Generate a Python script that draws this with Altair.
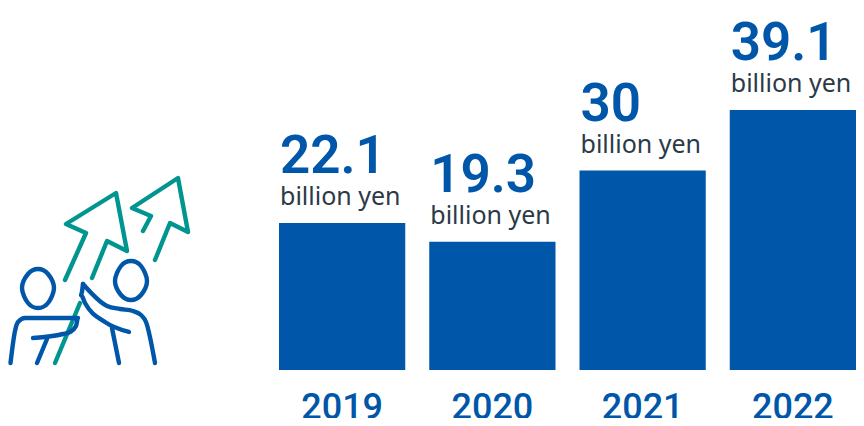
import altair as alt
import pandas as pd

years = ["2019", "2020", "2021", "2022"]
values = [22.1, 19.3, 30, 39.1]
unit_label = "billion yen"

BLUE = "#0056a8"
TEAL = "#00958f"
DARK = "#2c3a47"

# Decorative icon outlines, in reference picture coordinates
teal_paths = {
    "arrow1": [(65, 280), (86, 233), (66, 224), (116, 193), (127, 251), (107, 241), (92, 278)],
    "shaft": [(80, 303), (55, 363)],
    "arrow2": [(143, 231), (151, 216), (132, 208), (178, 178), (188, 232), (170, 223), (155, 260)],
}
blue_paths = {
    "body_left": [(10.5, 363), (15, 331), (18, 322), (25, 318), (32, 318), (78, 318), (76, 326),
                  (70, 332), (63, 334), (33, 338)],
    "leg_left": [(47, 339), (37, 363)],
    "arm_right_low": [(83, 284), (81, 295), (85, 303), (105, 322), (129, 332)],
    "arm_right_up": [(83, 284), (107, 306), (120, 309), (133, 311), (141, 315), (146, 322),
                     (155, 363)],
    "leg_right": [(112, 328), (119, 363)],
}
head_paths = {
    "head_left": [(38, 269), (48, 274), (54, 288), (48, 303), (38, 308), (28, 303), (22, 288), (28, 274)],
    "head_right": [(131, 261), (141, 266), (147, 281), (141, 295), (131, 300), (121, 295), (115, 281), (121, 266)],
}


def to_frame(paths):
    rows = []
    for name, pts in paths.items():
        for i, (px, py) in enumerate(pts):
            rows.append({"path": name, "order": i, "px": px, "py": py})
    return pd.DataFrame(rows)


bars_df = pd.DataFrame({
    "year": years,
    "value": values,
    "label": [f"{v:g}" for v in values],
    "unit": [unit_label] * len(years),
})

BAR_W = 126.25
x_band = alt.Scale(domain=years, range=[271, 848], paddingInner=24 / (BAR_W + 24), paddingOuter=0, round=False)
y_val = alt.Scale(domain=[0, 362 / 6.65], range=[362, 0], nice=False)

base = alt.Chart(bars_df)
x_axis = alt.Axis(
    title=None, domain=False, ticks=False, labelAngle=0, labelFont="Roboto", labelFontSize=36,
    labelFontWeight=500, labelColor=BLUE, labelPadding=48, labelBaseline="alphabetic", grid=False,
)
bars = base.mark_bar(color=BLUE, size=BAR_W).encode(
    x=alt.X("year:N", scale=x_band, axis=x_axis, sort=years),
    y=alt.Y("value:Q", scale=y_val, axis=None),
)
numbers = base.mark_text(
    align="left", baseline="alphabetic", dx=1, dy=-50, font="Roboto", fontSize=53,
    fontWeight=600, color=BLUE,
).encode(
    x=alt.X("year:N", scale=x_band, bandPosition=0, sort=years),
    y=alt.Y("value:Q", scale=y_val),
    text="label:N",
)
units = base.mark_text(
    align="left", baseline="alphabetic", dx=1, dy=-18, font="Noto Sans", fontSize=25, color=DARK,
).encode(
    x=alt.X("year:N", scale=x_band, bandPosition=0, sort=years),
    y=alt.Y("value:Q", scale=y_val),
    text="unit:N",
)

px_x = alt.Scale(domain=[8, 856], range=[0, 848], nice=False)
px_y = alt.Scale(domain=[8, 370], range=[0, 362], nice=False)


def icon_layer(paths, color, interpolate="linear"):
    return alt.Chart(to_frame(paths)).mark_line(
        color=color, strokeWidth=4.4, strokeCap="round", strokeJoin="round", interpolate=interpolate
    ).encode(
        x=alt.X("px:Q", scale=px_x, axis=None),
        y=alt.Y("py:Q", scale=px_y, axis=None),
        detail="path:N",
        order="order:Q",
    )


icon = alt.layer(
    icon_layer(teal_paths, TEAL),
    icon_layer(blue_paths, BLUE, "monotone"),
    icon_layer(head_paths, BLUE, "cardinal-closed"),
)

data_layers = alt.layer(bars, numbers, units)

chart = (
    alt.layer(data_layers, icon)
    .resolve_scale(x="independent", y="independent")
    .properties(
        width=848,
        height=362,
        padding={"left": 0, "top": 0, "right": 0, "bottom": 48},
        autosize=alt.AutoSizeParams(type="none"),
    )
    .configure_view(stroke=None)
)

chart.save("out.html", embed_options={"renderer": "svg", "actions": False})
